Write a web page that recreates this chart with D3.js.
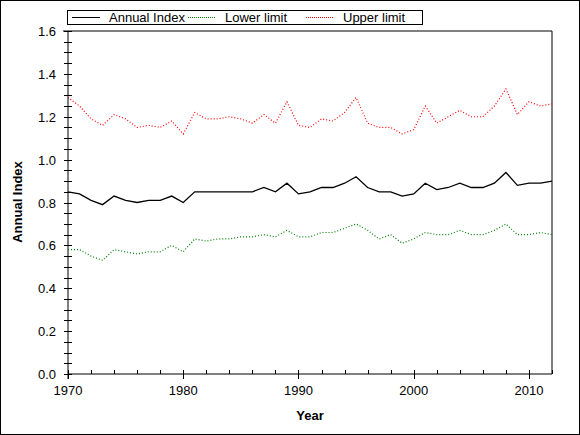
<!DOCTYPE html>
<html><head><meta charset="utf-8">
<script src="https://cdn.jsdelivr.net/npm/d3@7"></script>
<style>body{margin:0;background:#fff}svg{display:block;font-family:"Liberation Sans",Arial,sans-serif}</style>
</head><body><svg id="c" width="580" height="435"></svg>
<script>
var years = d3.range(1970, 2013);
var annualIndex = [.85,.84,.81,.79,.83,.81,.80,.81,.81,.83,.80,.85,.85,.85,.85,.85,.85,.87,.85,.89,.84,.85,.87,.87,.89,.92,.87,.85,.85,.83,.84,.89,.86,.87,.89,.87,.87,.89,.94,.88,.89,.89,.90];
var lowerLimit = [.58,.58,.55,.53,.58,.57,.56,.57,.57,.60,.57,.63,.62,.63,.63,.64,.64,.65,.64,.67,.64,.64,.66,.66,.68,.70,.67,.63,.65,.61,.63,.66,.65,.65,.67,.65,.65,.67,.70,.65,.65,.66,.65];
var upperLimit = [1.29,1.25,1.19,1.16,1.21,1.19,1.15,1.16,1.15,1.18,1.12,1.22,1.19,1.19,1.20,1.19,1.17,1.21,1.17,1.27,1.16,1.15,1.19,1.18,1.22,1.29,1.17,1.15,1.15,1.12,1.14,1.25,1.17,1.20,1.23,1.20,1.20,1.25,1.33,1.21,1.27,1.25,1.26];
var xTicks = [1970,1980,1990,2000,2010];
var yTicks = d3.range(0, 1.61, 0.2);

var svg = d3.select("#c");
svg.append("rect").attr("x",0.5).attr("y",0.5).attr("width",579).attr("height",434).attr("fill","#fff").attr("stroke","#000");

var x = d3.scaleLinear().domain([1970, 2012]).range([68, 552]);
var y = d3.scaleLinear().domain([0, 1.6]).range([374, 31]);

// frame
svg.append("line").attr("x1",63).attr("x2",552).attr("y1",31).attr("y2",31).attr("stroke","#000");
svg.append("line").attr("x1",552).attr("x2",552).attr("y1",31).attr("y2",374).attr("stroke","#000");
svg.append("line").attr("x1",68).attr("x2",552).attr("y1",374).attr("y2",374).attr("stroke","#000");
svg.append("line").attr("x1",68).attr("x2",68).attr("y1",31).attr("y2",379).attr("stroke","#000");

// y ticks
svg.selectAll(".ym").data(d3.range(0, 1.601, 0.05)).join("line")
  .attr("x1",64).attr("x2",72).attr("y1",d=>Math.round(y(d))+0.5).attr("y2",d=>Math.round(y(d))+0.5).attr("stroke","#000");
svg.selectAll(".yl").data(yTicks).join("text")
  .attr("x",56).attr("y",d=>y(d)+5).attr("text-anchor","end").attr("font-size",13).text(d=>d.toFixed(1));

// x ticks
svg.selectAll(".xm").data(d3.range(1970, 2013, 2)).join("line")
  .attr("x1",d=>Math.round(x(d))+0.5).attr("x2",d=>Math.round(x(d))+0.5)
  .attr("y1",370).attr("y2",d=>xTicks.includes(d)?379:374).attr("stroke","#000");
svg.selectAll(".xl").data(xTicks).join("text")
  .attr("x",d=>x(d)).attr("y",395).attr("text-anchor","middle").attr("font-size",13).text(d=>d);

svg.append("text").attr("x",310).attr("y",420).attr("text-anchor","middle").attr("font-size",13).attr("font-weight","bold").text("Year");
svg.append("text").attr("transform","translate(22,202) rotate(-90)").attr("text-anchor","middle").attr("font-size",13).attr("font-weight","bold").text("Annual Index");

var line = d3.line().x((d,i)=>x(years[i])).y(d=>y(d));
svg.append("path").attr("d",line(upperLimit)).attr("fill","none").attr("stroke","#ff0000").attr("stroke-width",1.2).attr("stroke-dasharray","1,2");
svg.append("path").attr("d",line(lowerLimit)).attr("fill","none").attr("stroke","#008000").attr("stroke-width",1.2).attr("stroke-dasharray","1,2");
svg.append("path").attr("d",line(annualIndex)).attr("fill","none").attr("stroke","#000").attr("stroke-width",1.3);

// legend
var lg = svg.append("g");
lg.append("rect").attr("x",67.5).attr("y",10.5).attr("width",355).attr("height",14).attr("fill","#fff").attr("stroke","#000");
var items = [["Annual Index","#000",null,72],["Lower limit","#008000","1,1",188],["Upper limit","#ff0000","1,1",306]];
items.forEach(function(it){
  lg.append("line").attr("x1",it[3]).attr("x2",it[3]+28).attr("y1",17.5).attr("y2",17.5).attr("stroke",it[1]).attr("stroke-dasharray",it[2]);
  lg.append("text").attr("x",it[3]+37).attr("y",22).attr("font-size",13).text(it[0]);
});
</script></body></html>
